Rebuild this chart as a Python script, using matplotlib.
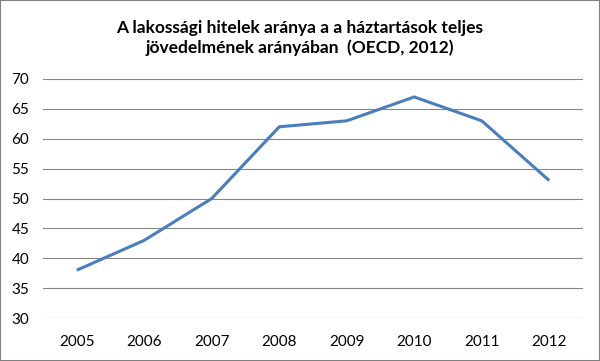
import matplotlib
matplotlib.use("Agg")
import matplotlib.pyplot as plt
from matplotlib.patches import Rectangle

years = ["2005", "2006", "2007", "2008", "2009", "2010", "2011", "2012"]
values = [38, 43, 50, 62, 63, 67, 63, 53]
yticks = [30, 35, 40, 45, 50, 55, 60, 65, 70]
title = "A lakossági hitelek aránya a a háztartások teljes\njövedelmének arányában  (OECD, 2012)"

plt.rcParams['font.family'] = ['Lato', 'DejaVu Sans']

W, H = 600, 361
fig = plt.figure(figsize=(W/100, H/100), dpi=100)
fig.patches.append(Rectangle((0, 0), 1, 1, transform=fig.transFigure,
                             fill=False, edgecolor='#808080', linewidth=1.5))
ax = fig.add_axes([43/W, 1-318/H, 540/W, (318-79)/H])
x = list(range(len(years)))
ax.plot(x, values, color='#4A7EBB', linewidth=2.2, solid_capstyle='butt')
ax.set_xlim(-0.5, len(years)-0.5)
ax.set_ylim(30, 70)
ax.set_yticks(yticks)
ax.set_xticks(x)
ax.set_xticklabels(years)
ax.yaxis.grid(True, color='#868686', linewidth=0.8)
ax.set_axisbelow(True)
for s in ax.spines.values():
    s.set_visible(False)
ax.tick_params(axis='both', length=0, labelsize=11, colors='black')
ax.tick_params(axis='y', pad=10)
ax.tick_params(axis='x', pad=12)
fig.text(0.5, 1-38/H, title, ha='center', va='center', fontsize=12.5,
         fontweight='bold', linespacing=1.25)
fig.savefig("out.png", dpi=100)
